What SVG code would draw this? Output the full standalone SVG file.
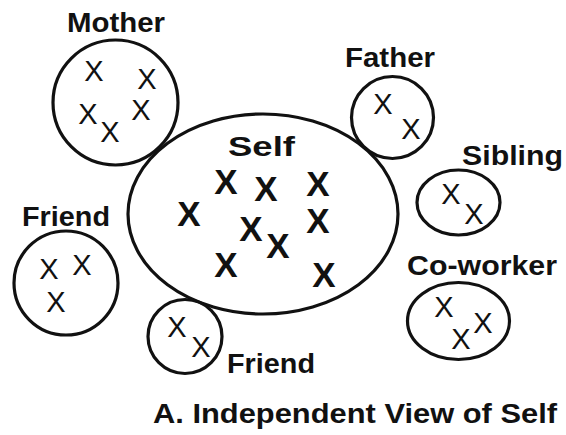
<svg xmlns="http://www.w3.org/2000/svg" width="566" height="435" viewBox="0 0 566 435">
  <style>
    .ring { fill: none; stroke: #111; stroke-width: 3.2; }
    .label { font-family: "Liberation Sans", Arial, Helvetica, sans-serif; font-weight: bold; font-size: 28px; fill: #111; }
    .x { font-family: "Liberation Sans", Arial, Helvetica, sans-serif; font-size: 29px; fill: #111; text-anchor: middle; }
    .xb { font-family: "Liberation Sans", Arial, Helvetica, sans-serif; font-weight: bold; font-size: 35px; fill: #111; text-anchor: middle; }
  </style>
  <rect width="566" height="435" fill="#fff"/>

  <!-- Central self -->
  <g id="self">
    <ellipse class="ring" cx="263" cy="214" rx="135" ry="100" stroke-width="3.4"/>
    <text class="label" x="228" y="156" font-size="34" textLength="67" lengthAdjust="spacingAndGlyphs">Self</text>
    <text class="xb" x="226" y="194">X</text>
    <text class="xb" x="266" y="201">X</text>
    <text class="xb" x="318" y="196">X</text>
    <text class="xb" x="189" y="226">X</text>
    <text class="xb" x="251" y="241">X</text>
    <text class="xb" x="318" y="233">X</text>
    <text class="xb" x="278" y="258">X</text>
    <text class="xb" x="226" y="277">X</text>
    <text class="xb" x="324" y="287">X</text>
  </g>

  <g id="mother">
    <circle class="ring" cx="115.5" cy="102.5" r="62.5"/>
    <text class="label" x="67" y="32" textLength="98" lengthAdjust="spacingAndGlyphs">Mother</text>
    <text class="x" x="94" y="81">X</text>
    <text class="x" x="147" y="89">X</text>
    <text class="x" x="88" y="124">X</text>
    <text class="x" x="110" y="142">X</text>
    <text class="x" x="141" y="120">X</text>
  </g>

  <g id="father">
    <circle class="ring" cx="392.5" cy="117.5" r="41"/>
    <text class="label" x="345" y="67" textLength="90" lengthAdjust="spacingAndGlyphs">Father</text>
    <text class="x" x="383" y="114">X</text>
    <text class="x" x="411" y="139">X</text>
  </g>

  <g id="sibling">
    <ellipse class="ring" cx="458.5" cy="202.5" rx="41.5" ry="32.5"/>
    <text class="label" x="462" y="165" textLength="101" lengthAdjust="spacingAndGlyphs">Sibling</text>
    <text class="x" x="451" y="204">X</text>
    <text class="x" x="474" y="224">X</text>
  </g>

  <g id="coworker">
    <ellipse class="ring" cx="458.5" cy="321" rx="51" ry="38.5"/>
    <text class="label" x="407" y="275" textLength="150" lengthAdjust="spacingAndGlyphs">Co-worker</text>
    <text class="x" x="444" y="317">X</text>
    <text class="x" x="483" y="333">X</text>
    <text class="x" x="461" y="349">X</text>
  </g>

  <g id="friend-left">
    <circle class="ring" cx="66" cy="283" r="52"/>
    <text class="label" x="22" y="226" textLength="88" lengthAdjust="spacingAndGlyphs">Friend</text>
    <text class="x" x="49" y="279">X</text>
    <text class="x" x="82" y="275">X</text>
    <text class="x" x="56" y="312">X</text>
  </g>

  <g id="friend-bottom">
    <circle class="ring" cx="185" cy="336.5" r="37"/>
    <text class="label" x="227" y="373" textLength="88" lengthAdjust="spacingAndGlyphs">Friend</text>
    <text class="x" x="177" y="337">X</text>
    <text class="x" x="201" y="357">X</text>
  </g>

  <g id="connectors"></g>

  <text class="label" x="153" y="423" textLength="404" lengthAdjust="spacingAndGlyphs">A. Independent View of Self</text>
</svg>
